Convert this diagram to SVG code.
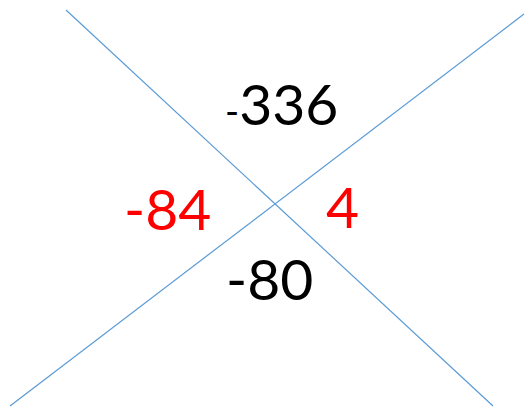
<svg xmlns="http://www.w3.org/2000/svg" width="525" height="407" viewBox="0 0 525 407">
<style>
.ln{stroke:#5B9BD5;stroke-width:1.2;fill:none}
.t{font-family:Lato,"Noto Sans",sans-serif;font-size:57px}
.blk{fill:#000}
.red{fill:#FF0000}
</style>
<rect width="525" height="407" fill="#fff"/>
<g id="connectors">
<line class="ln" x1="66" y1="10" x2="493" y2="406"/>
<line class="ln" x1="10" y1="406" x2="524" y2="14"/>
</g>
<g id="top"><text class="t blk" x="225" y="125"><tspan font-size="38">-</tspan>336</text></g>
<g id="left"><text class="t red" x="124" y="230">-84</text></g>
<g id="right"><text class="t red" x="326" y="228">4</text></g>
<g id="bottom"><text class="t blk" x="226" y="300">-80</text></g>
</svg>
